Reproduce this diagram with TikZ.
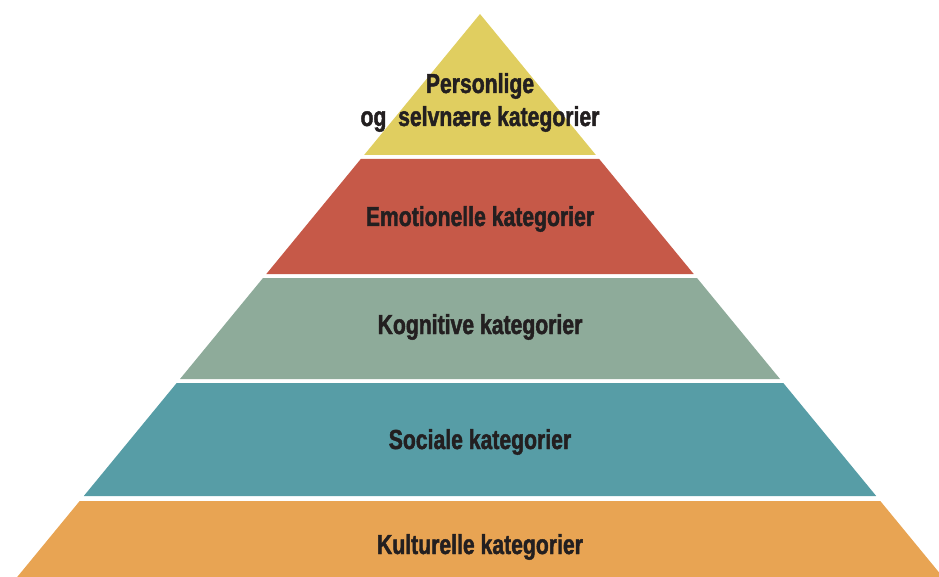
\documentclass[tikz,border=0pt]{standalone}
\usepackage{fontspec}
\newfontfamily\pyrfont{Liberation Sans}[FakeStretch=0.77, FakeBold=1.6]
\definecolor{layeryellow}{HTML}{E0CE60}
\definecolor{layerred}{HTML}{C65948}
\definecolor{layergreen}{HTML}{8EAB9A}
\definecolor{layerteal}{HTML}{579DA6}
\definecolor{layerorange}{HTML}{E8A453}
\definecolor{labelink}{HTML}{231F20}
\tikzset{
  label text/.style = {text = labelink, font = \pyrfont\bfseries\fontsize{27.5}{33}\selectfont, inner sep = 0, anchor = base}
}
\begin{document}
\begin{tikzpicture}[x = 1pt, y = -1pt]
\useasboundingbox (0, 0) rectangle (939, 577);
\clip (0, 0) rectangle (939, 577);

% layers, top to bottom
\fill [layeryellow] (480, 14) -- (595.9, 155) -- (364.1, 155) -- cycle;
\fill [layerred] (360.8, 159) -- (599.2, 159) -- (693.7, 274) -- (266.3, 274) -- cycle;
\fill [layergreen] (263.0, 278) -- (697.0, 278) -- (780.0, 379) -- (180.0, 379) -- cycle;
\fill [layerteal] (176.7, 383) -- (783.3, 383) -- (876.2, 496) -- (83.8, 496) -- cycle;
\fill [layerorange] (79.7, 501) -- (880.3, 501) -- (942.8, 577) -- (17.2, 577) -- cycle;

% labels
\node [label text] (personal) at (480, 93) {Personlige};
\node [label text] (selfnear) at (480, 126) {og\ \ selvnære kategorier};
\node [label text] (emotional) at (480, 226) {Emotionelle kategorier};
\node [label text] (cognitive) at (480, 334) {Kognitive kategorier};
\node [label text] (social) at (480, 449) {Sociale kategorier};
\node [label text] (cultural) at (480, 554) {Kulturelle kategorier};
\end{tikzpicture}
\end{document}
